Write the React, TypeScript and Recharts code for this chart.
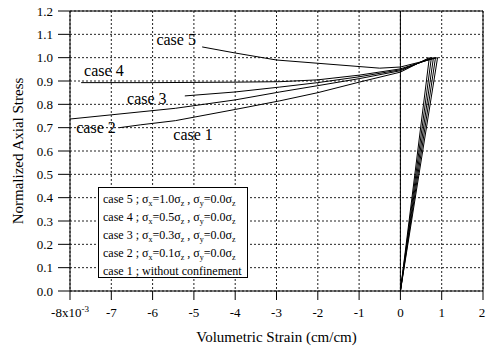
import React from 'react';
import {
  LineChart,
  Line,
  XAxis,
  YAxis,
  CartesianGrid,
  ReferenceLine,
  ReferenceDot,
  Legend,
} from 'recharts';

const FONT = '"Liberation Serif", "Times New Roman", Times, serif';
const serif = { fontFamily: FONT };

// Volumetric strain (x10^-3) and normalized axial stress for each confinement case,
// listed along the loading path: origin -> peak -> post-peak softening.
const case1Strain = [0, 0.7, 0, -1, -2, -2.92, -4, -5.45, -6.3, -6.8];
const case1Stress = [0, 1.0, 0.938, 0.895, 0.85, 0.815, 0.778, 0.73, 0.712, 0.7];

const case2Strain = [0, 0.75, 0, -1, -2, -2.92, -4, -5.45, -7, -8];
const case2Stress = [0, 1.0, 0.944, 0.91, 0.88, 0.853, 0.819, 0.783, 0.755, 0.737];

const case3Strain = [0, 0.8, 0, -1, -2, -2.92, -4, -5.22];
const case3Stress = [0, 1.0, 0.948, 0.918, 0.893, 0.874, 0.853, 0.836];

const case4Strain = [0, 0.85, 0, -1, -2, -2.92, -4, -6, -7.73];
const case4Stress = [0, 1.0, 0.952, 0.925, 0.905, 0.897, 0.895, 0.893, 0.893];

const case5Strain = [0, 0.9, 0, -0.5, -1, -2, -3, -4, -4.8];
const case5Stress = [0, 1.0, 0.96, 0.955, 0.962, 0.976, 0.99, 1.02, 1.046];

const xTicks = [-8, -7, -6, -5, -4, -3, -2, -1, 0, 1, 2];
const yTicks = [0, 0.1, 0.2, 0.3, 0.4, 0.5, 0.6, 0.7, 0.8, 0.9, 1.0, 1.1, 1.2];

const caseNames = ['case 1', 'case 2', 'case 3', 'case 4', 'case 5'];
// Anchor points (in data units) of the curve annotations
const caseLabelX = [-5.02, -7.37, -6.14, -7.18, -5.43];
const caseLabelY = [0.669, 0.699, 0.827, 0.947, 1.076];

// Confinement ratios shown in the legend, cases 5..2
const sigmaX = ['1.0', '0.5', '0.3', '0.1'];
const sigmaY = ['0.0', '0.0', '0.0', '0.0'];

const toPoints = (xs: number[], ys: number[]) => xs.map((x, i) => ({ x, y: ys[i] }));

const series = [
  toPoints(case1Strain, case1Stress),
  toPoints(case2Strain, case2Stress),
  toPoints(case3Strain, case3Stress),
  toPoints(case4Strain, case4Stress),
  toPoints(case5Strain, case5Stress),
];

const XTick = (props: any) => {
  const { x, y, payload } = props;
  const v = payload.value;
  if (v === -8) {
    return (
      <text x={x} y={y} dy="0.71em" textAnchor="middle" style={serif} fontSize={13} fill="#000">
        <tspan>-8x10</tspan>
        <tspan dy={-5} fontSize={9}>-3</tspan>
      </text>
    );
  }
  return (
    <text x={x} y={y} dy="0.71em" textAnchor="middle" style={serif} fontSize={13} fill="#000">
      {String(v)}
    </text>
  );
};

const YTick = (props: any) => {
  const { x, y, payload } = props;
  return (
    <text x={x} y={y} dy="0.35em" textAnchor="end" style={serif} fontSize={13} fill="#000">
      {Number(payload.value).toFixed(1)}
    </text>
  );
};

const Sub = ({ t }: { t: string }) => (
  <span style={{ fontSize: 8, position: 'relative', top: 3 }}>{t}</span>
);

const LegendBox = () => (
  <div
    style={{
      width: 150,
      height: 91,
      boxSizing: 'border-box',
      border: '1px solid #000',
      background: '#fff',
      fontFamily: FONT,
      fontSize: 12,
      lineHeight: '17px',
      padding: '3px 0 0 4px',
      color: '#000',
      whiteSpace: 'nowrap',
    }}
  >
    {sigmaX.map((sx, i) => (
      <div key={i}>
        {caseNames[4 - i]} ; σ<Sub t="x" />={sx}σ<Sub t="z" /> , σ<Sub t="y" />={sigmaY[i]}σ<Sub t="z" />
      </div>
    ))}
    <div>{caseNames[0]} ; without confinement</div>
  </div>
);

const CaseText = (name: string) => (props: any) => (
  <text
    x={props.cx}
    y={props.cy}
    textAnchor="middle"
    dominantBaseline="central"
    style={serif}
    fontSize={16}
    fill="#000"
  >
    {name}
  </text>
);

const YTitle = (props: any) => {
  const vb = props.viewBox;
  const cx = vb.x + 18;
  const cy = vb.y + vb.height / 2;
  return (
    <text
      x={cx}
      y={cy}
      transform={`rotate(-90 ${cx} ${cy})`}
      textAnchor="middle"
      dominantBaseline="central"
      style={serif}
      fontSize={15}
      fill="#000"
    >
      Normalized Axial Stress
    </text>
  );
};

const XTitle = (props: any) => {
  const vb = props.viewBox;
  return (
    <text
      x={vb.x + vb.width / 2}
      y={vb.y + 46}
      textAnchor="middle"
      dominantBaseline="central"
      style={serif}
      fontSize={15}
      fill="#000"
    >
      Volumetric Strain (cm/cm)
    </text>
  );
};

export default function App() {
  return (
    <div style={{ position: 'absolute', left: 0, top: 0, background: '#fff', fontFamily: FONT }}>
      <LineChart
        width={486}
        height={351}
        margin={{ top: 11, right: 3, bottom: 0, left: 0 }}
        style={{ fontFamily: FONT }}
      >
        <CartesianGrid stroke="#222" strokeDasharray="2 2" strokeWidth={1} />
        <XAxis
          type="number"
          dataKey="x"
          domain={[-8, 2]}
          ticks={xTicks}
          allowDataOverflow
          height={60}
          tickSize={9}
          tickMargin={8}
          tick={<XTick />}
          axisLine={{ stroke: '#000' }}
          tickLine={{ stroke: '#000' }}
          label={{ content: <XTitle /> }}
        />
        <YAxis
          type="number"
          dataKey="y"
          domain={[0, 1.2]}
          ticks={yTicks}
          allowDataOverflow
          width={70}
          tickSize={12}
          tickMargin={5}
          tick={<YTick />}
          axisLine={{ stroke: '#000' }}
          tickLine={{ stroke: '#000' }}
          label={{ content: <YTitle /> }}
        />
        <ReferenceLine y={1.2} stroke="#000" strokeWidth={1} />
        <ReferenceLine x={2} stroke="#000" strokeWidth={1} />
        <ReferenceLine x={0} stroke="#000" strokeWidth={1} />
        {series.map((pts, i) => (
          <Line
            key={caseNames[i]}
            data={pts}
            dataKey="y"
            name={caseNames[i]}
            type="linear"
            stroke="#000"
            strokeWidth={1}
            dot={false}
            activeDot={false}
            isAnimationActive={false}
            legendType="none"
          />
        ))}
        {caseNames.map((n, i) => (
          <ReferenceDot
            key={n}
            x={caseLabelX[i]}
            y={caseLabelY[i]}
            r={0}
            shape={CaseText(n)}
          />
        ))}
        <Legend
          layout="vertical"
          align="center"
          verticalAlign="middle"
          content={<LegendBox />}
          wrapperStyle={{ position: 'absolute', left: 98, top: 187, width: 150, height: 91 }}
        />
      </LineChart>
    </div>
  );
}
